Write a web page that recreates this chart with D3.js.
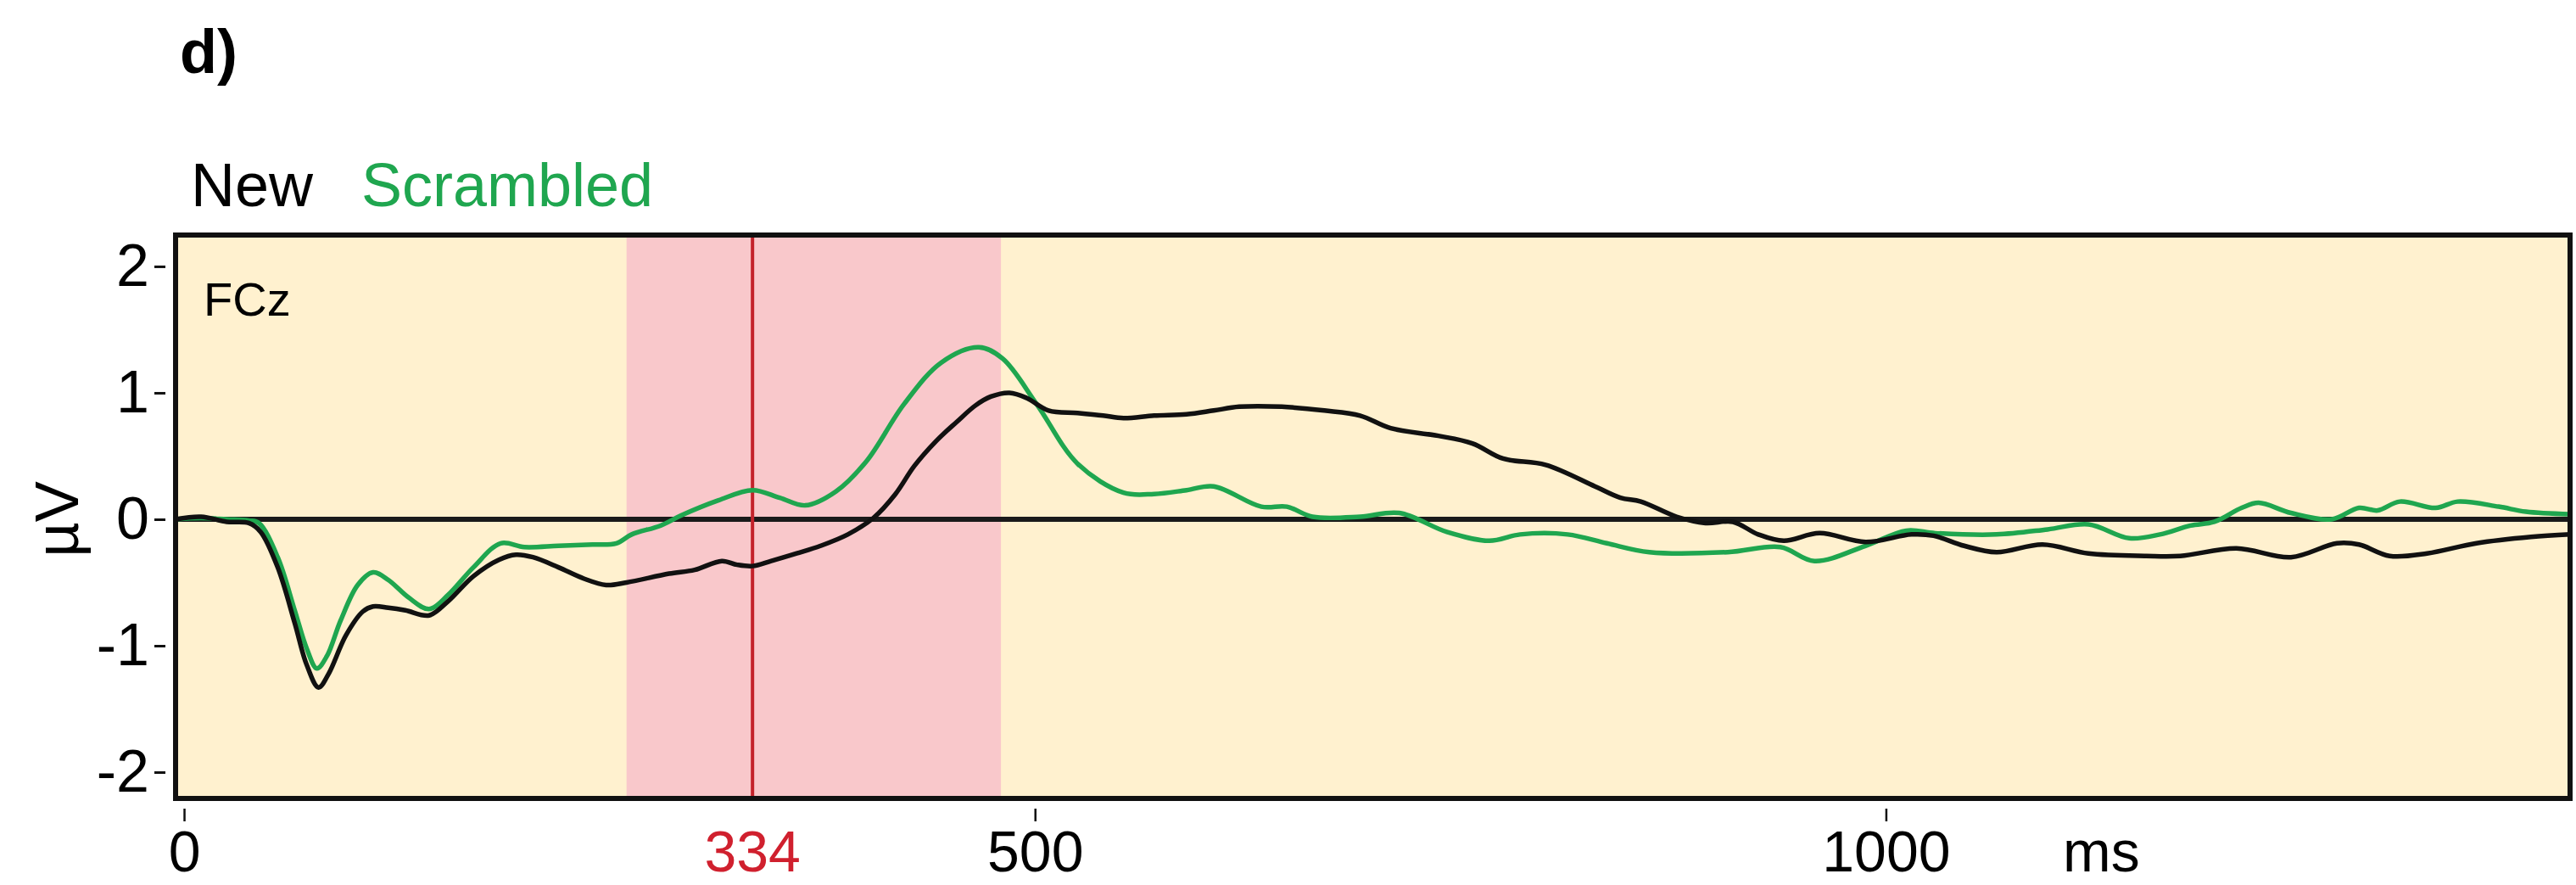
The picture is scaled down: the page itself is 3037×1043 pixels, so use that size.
<!DOCTYPE html>
<html lang="en">
<head>
    <meta charset="UTF-8" />
    <title>ERP FCz - New vs Scrambled</title>
    <script src="https://d3js.org/d3.v7.min.js"></script>
    <style>
        body { margin: 0; background: #ffffff; }
        svg { display: block; font-family: "Liberation Sans", Arial, sans-serif; }
    </style>
</head>
<body>
    <script>
        var w = 3037;
        var h = 1043;

        // New condition (black)
        var newTimes = [-5, 10, 25, 38, 45, 55, 65, 72, 79, 85, 95, 105, 111, 120, 130, 144, 155, 170, 185, 195,
            205, 220, 235, 248, 260, 285, 300, 316, 325, 334, 345, 360, 374, 390, 405, 418, 429, 442, 454, 465,
            474, 485, 495, 508, 525, 540, 552, 570, 589, 605, 620, 645, 670, 691, 709, 737, 757, 775, 800, 829,
            844, 856, 877, 894, 910, 925, 940, 961, 988, 1015, 1028, 1046, 1065, 1092, 1119, 1153, 1173, 1206, 1238, 1265,
            1278, 1296, 1318, 1347, 1379, 1402];
        var newValues = [0, 0.02, -0.02, -0.03, -0.1, -0.38, -0.82, -1.15, -1.33, -1.22, -0.92, -0.73, -0.69, -0.7, -0.72, -0.76, -0.65, -0.45, -0.32, -0.28,
            -0.3, -0.38, -0.47, -0.52, -0.5, -0.43, -0.4, -0.33, -0.36, -0.37, -0.33, -0.27, -0.21, -0.12, 0.01, 0.2, 0.42, 0.62, 0.77, 0.9,
            0.97, 1.0, 0.96, 0.86, 0.84, 0.82, 0.8, 0.82, 0.83, 0.86, 0.89, 0.89, 0.86, 0.82, 0.72, 0.66, 0.6, 0.48, 0.43, 0.26,
            0.17, 0.14, 0.02, -0.03, -0.02, -0.12, -0.17, -0.11, -0.18, -0.12, -0.13, -0.21, -0.26, -0.2, -0.27, -0.29, -0.29, -0.23, -0.3, -0.19,
            -0.2, -0.29, -0.27, -0.19, -0.14, -0.12];

        // Scrambled condition (green)
        var scrTimes = [-5, 10, 25, 38, 44, 55, 65, 72, 78, 84, 92, 102, 111, 120, 132, 144, 155, 170, 186, 200,
            220, 240, 254, 263, 280, 292, 314, 334, 350, 365, 383, 401, 423, 445, 467, 481, 501, 525, 552, 570,
            589, 605, 633, 648, 663, 691, 714, 742, 767, 785, 813, 836, 861, 907, 938, 958, 988, 1012, 1029, 1065,
            1095, 1119, 1143, 1161, 1179, 1193, 1209, 1219, 1238, 1262, 1278, 1289, 1302, 1323, 1336, 1360, 1376, 1402];
        var scrValues = [0, 0.01, 0, -0.01, -0.03, -0.3, -0.72, -1.02, -1.18, -1.08, -0.8, -0.52, -0.42, -0.48, -0.62, -0.71, -0.6, -0.38, -0.19, -0.22,
            -0.21, -0.2, -0.19, -0.12, -0.05, 0.03, 0.15, 0.23, 0.17, 0.11, 0.22, 0.46, 0.91, 1.24, 1.36, 1.27, 0.91, 0.44, 0.21, 0.2,
            0.23, 0.26, 0.1, 0.1, 0.02, 0.02, 0.05, -0.1, -0.17, -0.12, -0.12, -0.19, -0.26, -0.26, -0.22, -0.33, -0.21, -0.09, -0.11, -0.12,
            -0.08, -0.04, -0.15, -0.12, -0.05, -0.02, 0.09, 0.13, 0.05, 0, 0.09, 0.07, 0.14, 0.09, 0.14, 0.1, 0.06, 0.04];

        var xTicks = [0, 500, 1000];
        var yTicks = [-2, -1, 0, 1, 2];
        var windowRange = [260, 480];   // shaded interval (ms)
        var markTime = 334;             // red marker (ms)

        var plotLeft = 207, plotRight = 3030, plotTop = 277, plotBottom = 941;
        var labelBase = 1027;

        var svg = d3.select("body")
            .append("svg")
            .attr("width", w)
            .attr("height", h);

        // Scales
        var xScale = d3.scaleLinear()
            .domain([-5, 1402])
            .range([plotLeft, plotRight]);

        var yScale = d3.scaleLinear()
            .domain([-2.208, 2.248])
            .range([plotBottom, plotTop]);

        // Panel background
        svg.append("rect")
            .attr("x", plotLeft)
            .attr("y", plotTop)
            .attr("width", plotRight - plotLeft)
            .attr("height", plotBottom - plotTop)
            .attr("fill", "#fff1cf");

        // Shaded window
        svg.append("rect")
            .attr("x", xScale(windowRange[0]))
            .attr("y", plotTop)
            .attr("width", xScale(windowRange[1]) - xScale(windowRange[0]))
            .attr("height", plotBottom - plotTop)
            .attr("fill", "#f9c8cb");

        // Zero line
        svg.append("line")
            .attr("x1", plotLeft)
            .attr("x2", plotRight)
            .attr("y1", yScale(0))
            .attr("y2", yScale(0))
            .attr("stroke", "#1a1a1a")
            .attr("stroke-width", 6);

        // Marker line
        svg.append("line")
            .attr("x1", xScale(markTime))
            .attr("x2", xScale(markTime))
            .attr("y1", plotTop)
            .attr("y2", plotBottom)
            .attr("stroke", "#c4222b")
            .attr("stroke-width", 4);

        var line = d3.line()
            .x(function(d) { return xScale(d[0]); })
            .y(function(d) { return yScale(d[1]); })
            .curve(d3.curveCatmullRom.alpha(0.5));

        svg.append("path")
            .datum(d3.zip(scrTimes, scrValues))
            .attr("d", line)
            .attr("fill", "none")
            .attr("stroke", "#1fa64f")
            .attr("stroke-width", 5.5)
            .attr("stroke-linejoin", "round");

        svg.append("path")
            .datum(d3.zip(newTimes, newValues))
            .attr("d", line)
            .attr("fill", "none")
            .attr("stroke", "#111111")
            .attr("stroke-width", 5.5)
            .attr("stroke-linejoin", "round");

        // Frame
        svg.append("rect")
            .attr("x", plotLeft)
            .attr("y", plotTop)
            .attr("width", plotRight - plotLeft)
            .attr("height", plotBottom - plotTop)
            .attr("fill", "none")
            .attr("stroke", "#111111")
            .attr("stroke-width", 6);

        // Y axis
        var yAxis = svg.append("g")
            .attr("transform", "translate(" + (plotLeft - 12) + ",0)")
            .call(d3.axisLeft(yScale).tickValues(yTicks).tickSize(13).tickPadding(6)
                .tickFormat(function(d) { return d; }));
        yAxis.select(".domain").remove();
        yAxis.selectAll("line").attr("stroke", "#111").attr("stroke-width", 3);
        yAxis.selectAll("text")
            .attr("font-size", 70)
            .attr("font-family", "Liberation Sans, Arial, sans-serif")
            .attr("fill", "#000");

        // X axis
        var xAxis = svg.append("g")
            .attr("transform", "translate(0," + (plotBottom + 12) + ")")
            .call(d3.axisBottom(xScale).tickValues(xTicks).tickSize(15).tickPadding(0)
                .tickFormat(function(d) { return d; }));
        xAxis.select(".domain").remove();
        xAxis.selectAll("line").attr("stroke", "#111").attr("stroke-width", 2.5);
        xAxis.selectAll("text")
            .attr("y", labelBase - plotBottom - 12)
            .attr("dy", null)
            .attr("font-size", 68)
            .attr("font-family", "Liberation Sans, Arial, sans-serif")
            .attr("fill", "#000");

        svg.append("text")
            .attr("x", xScale(markTime))
            .attr("y", labelBase)
            .attr("text-anchor", "middle")
            .attr("font-size", 68)
            .attr("fill", "#d0202e")
            .text(markTime);

        svg.append("text")
            .attr("x", 2432)
            .attr("y", labelBase)
            .attr("font-size", 68)
            .attr("fill", "#000")
            .text("ms");

        // Y label
        svg.append("text")
            .attr("transform", "translate(92," + yScale(0) + ") rotate(-90)")
            .attr("text-anchor", "middle")
            .attr("font-size", 72)
            .attr("fill", "#000")
            .text("µV");

        // Channel label
        svg.append("text")
            .attr("x", 240)
            .attr("y", 372)
            .attr("font-size", 56)
            .attr("fill", "#000")
            .text("FCz");

        // Legend
        svg.append("text")
            .attr("x", 225)
            .attr("y", 243)
            .attr("font-size", 72)
            .attr("fill", "#000")
            .text("New");

        svg.append("text")
            .attr("x", 426)
            .attr("y", 243)
            .attr("font-size", 72)
            .attr("fill", "#1fa64f")
            .text("Scrambled");

        // Panel letter
        svg.append("text")
            .attr("x", 212)
            .attr("y", 86)
            .attr("font-size", 72)
            .attr("font-weight", "bold")
            .attr("fill", "#000")
            .text("d)");
    </script>
</body>
</html>
